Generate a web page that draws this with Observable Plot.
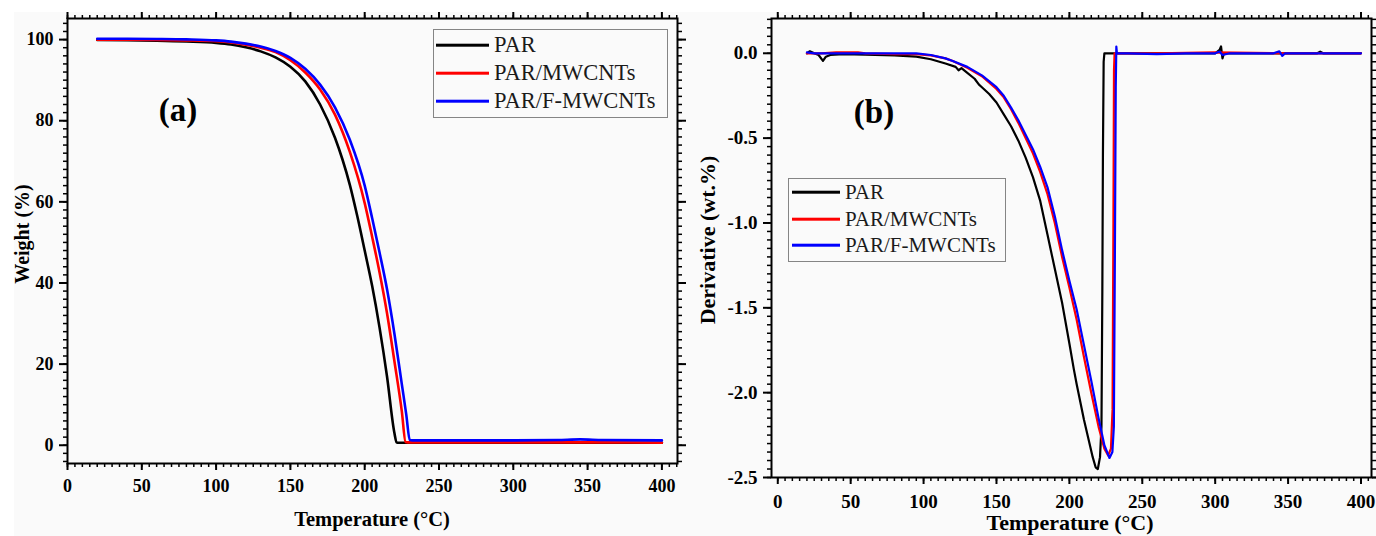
<!DOCTYPE html>
<html><head><meta charset="utf-8">
<script src="https://cdn.jsdelivr.net/npm/d3@7"></script>
<script src="https://cdn.jsdelivr.net/npm/@observablehq/plot@0.6"></script>
<style>
body{margin:0;background:#fff;font-family:"Liberation Serif","Times New Roman",serif;}
#wrap{position:relative;width:1376px;height:536px;overflow:hidden;}
#bg{position:absolute;left:14px;top:12px;right:0;bottom:0;background:#fafafa;}
.box{position:absolute;top:0;}
.t{position:absolute;white-space:nowrap;transform:translate(-50%,-50%);font-weight:bold;color:#000;line-height:1;}
.rot{transform:translate(-50%,-50%) rotate(-90deg);}
.legend{position:absolute;border:1.5px solid #858585;box-sizing:border-box;}
.lrow{position:absolute;white-space:nowrap;line-height:1;transform:translateY(-50%);color:#1a1a1a;}
.lline{position:absolute;height:2.6px;transform:translateY(-50%);}
</style></head>
<body>
<div id="wrap">
  <div id="bg"></div>
  <div id="left" class="box" style="left:0px"></div>
  <div id="right" class="box" style="left:690px"></div>
</div>
<script>
// ---------------- data ----------------
const seriesNames = ["PAR", "PAR/MWCNTs", "PAR/F-MWCNTs"];
const seriesColors = ["#000000", "#ff0000", "#0000ff"];

// TGA: [temperature °C, weight %]
const tga_PAR = [[20,99.9],[40,99.85],[60,99.75],[80,99.55],[100,99.2],[110,98.8],[120,98.1],[130,97.1],[140,95.6],[150,93.3],[160,89.7],[170,84.0],[180,75.8],[185,70.5],[190,64.2],[195,56.5],[200,48.0],[205,39.3],[210,29.0],[215,17.0],[220,3.0],[221.5,0.7],[222.5,0.6],[250,0.6],[300,0.6],[350,0.6],[400,0.6]];
const tga_MWCNT = [[20,99.95],[40,99.95],[60,99.9],[80,99.8],[100,99.6],[110,99.3],[120,98.75],[130,98.0],[140,96.9],[150,94.9],[160,91.9],[170,87.7],[180,81.5],[190,72.3],[200,59.7],[205,51.4],[210,42.6],[215,32.6],[220,20.7],[225,8.3],[227.5,0.8],[229,0.7],[300,0.7],[350,0.7],[400,0.6]];
const tga_FMWCNT = [[20,100.2],[40,100.2],[60,100.15],[80,100.05],[100,99.8],[110,99.5],[120,99.0],[130,98.3],[140,97.2],[150,95.5],[160,92.8],[170,88.9],[180,83.3],[190,75.3],[200,64.0],[205,56.0],[210,47.5],[215,38.5],[220,27.5],[225,15.0],[228,7.5],[230.3,1.3],[232,1.2],[300,1.2],[330,1.3],[345,1.45],[360,1.3],[400,1.2]];

// DTG: [temperature °C, derivative wt.%]
const dtg_PAR = [[20,0.0],[22,0.012],[25,0.0],[28,-0.01],[31,-0.045],[33,-0.02],[36,-0.01],[45,-0.005],[60,-0.008],[80,-0.012],[95,-0.02],[105,-0.035],[115,-0.06],[122,-0.08],[124,-0.1],[126,-0.088],[130,-0.115],[135,-0.15],[138,-0.185],[140,-0.2],[145,-0.24],[150,-0.29],[155,-0.36],[160,-0.43],[165,-0.515],[170,-0.615],[175,-0.73],[180,-0.87],[185,-1.07],[190,-1.27],[195,-1.47],[200,-1.71],[203,-1.86],[205,-1.95],[210,-2.16],[213,-2.27],[216,-2.38],[218,-2.44],[219.5,-2.45],[221,-2.38],[222,-2.2],[222.6,-1.4],[223,-0.6],[223.5,-0.05],[224,0.0],[240,0.0],[300,0.0],[303,0.02],[304,0.04],[305,-0.03],[306,0.0],[320,0.0],[370,0.0],[372,0.01],[374,0.0],[400,0.0]];
const dtg_MWCNT = [[20,0.0],[30,0.0],[40,0.005],[55,0.006],[60,0.0],[80,-0.005],[95,-0.005],[105,-0.012],[115,-0.03],[120,-0.045],[130,-0.085],[140,-0.135],[150,-0.21],[155,-0.26],[160,-0.33],[165,-0.41],[170,-0.5],[175,-0.59],[180,-0.7],[185,-0.83],[190,-1.0],[195,-1.2],[200,-1.38],[205,-1.57],[210,-1.79],[215,-2.0],[220,-2.2],[224,-2.33],[226.6,-2.37],[228.5,-2.33],[229.6,-2.1],[230.2,-1.0],[230.6,-0.1],[231,0.0],[260,0.0],[300,0.005],[350,0.0],[400,0.0]];
const dtg_FMWCNT = [[20,0.005],[25,0.0],[40,0.0],[60,0.0],[80,0.0],[95,0.0],[105,-0.01],[115,-0.03],[120,-0.045],[130,-0.08],[140,-0.13],[150,-0.2],[155,-0.25],[160,-0.32],[165,-0.395],[170,-0.48],[175,-0.565],[180,-0.67],[185,-0.79],[190,-0.96],[195,-1.16],[200,-1.34],[205,-1.51],[210,-1.72],[215,-1.93],[220,-2.15],[224,-2.31],[227.5,-2.385],[229.5,-2.35],[230.5,-2.2],[231.2,-1.2],[231.8,-0.2],[232.2,0.04],[232.6,0.0],[240,0.0],[260,-0.005],[280,0.0],[300,0.0],[303,0.01],[305,-0.01],[310,0.0],[340,0.0],[344,0.012],[346,-0.015],[348,0.0],[400,0.0]];

// tick values
const xTicksMajor = [0,50,100,150,200,250,300,350,400];
const tgaYTicks = [0,20,40,60,80,100];
const dtgYTicks = [-2.5,-2.0,-1.5,-1.0,-0.5,0.0];
const xTitle = "Temperature (°C)";
const tgaYTitle = "Weight (%)";
const dtgYTitle = "Derivative (wt.%)";

// ---------------- build ----------------
function rows(list) {
  const out = [];
  list.forEach((arr, i) => arr.forEach(([T, v]) => out.push({T, v, s: seriesNames[i]})));
  return out;
}
const tgaRows = rows([tga_PAR, tga_MWCNT, tga_FMWCNT]);
const dtgRows = rows([dtg_PAR, dtg_MWCNT, dtg_FMWCNT]);

function frameAxes(xMajor, xMinor, yMajor, yMinor, fmtY, xPad, yPad) {
  const blank = () => "";
  return [
    Plot.axisX({anchor: "bottom", ticks: xMinor, tickSize: 4, tickFormat: blank, strokeWidth: 1.5, label: null}),
    Plot.axisX({anchor: "bottom", ticks: xMajor, tickSize: 7, tickPadding: xPad, tickFormat: d => String(d), strokeWidth: 2, label: null}),
    Plot.axisX({anchor: "top", ticks: xMinor, tickSize: 4, tickFormat: blank, strokeWidth: 1.5, label: null}),
    Plot.axisX({anchor: "top", ticks: xMajor, tickSize: 7, tickFormat: blank, strokeWidth: 2, label: null}),
    Plot.axisY({anchor: "left", ticks: yMinor, tickSize: 4, tickFormat: blank, strokeWidth: 1.5, label: null}),
    Plot.axisY({anchor: "left", ticks: yMajor, tickSize: 8, tickPadding: yPad, tickFormat: fmtY, strokeWidth: 2, label: null}),
    Plot.axisY({anchor: "right", ticks: yMinor, tickSize: 4, tickFormat: blank, strokeWidth: 1.5, label: null}),
    Plot.axisY({anchor: "right", ticks: yMajor, tickSize: 8, tickFormat: blank, strokeWidth: 2, label: null}),
    Plot.frame({strokeWidth: 2})
  ];
}

const leftPlot = Plot.plot({
  width: 690, height: 536,
  marginLeft: 67, marginRight: 13, marginTop: 18, marginBottom: 73,
  x: {domain: [0, 410.5]},
  y: {domain: [-4.5, 105.2]},
  color: {domain: seriesNames, range: seriesColors},
  style: {fontFamily: "Liberation Serif, Times New Roman, serif", fontSize: "18px", fontWeight: "bold", background: "transparent", color: "#000", overflow: "visible"},
  marks: [
    ...frameAxes(xTicksMajor, d3.range(0, 411, 5), tgaYTicks, d3.range(-4, 105, 2), d => String(d), 9, 6),
    Plot.line(tgaRows, {x: "T", y: "v", z: "s", stroke: "s", curve: "monotone-x", strokeWidth: 2.6})
  ]
});
document.getElementById("left").appendChild(leftPlot);

const rightPlot = Plot.plot({
  width: 686, height: 536,
  marginLeft: 81, marginRight: 5, marginTop: 18, marginBottom: 59,
  x: {domain: [-4.3, 407.2]},
  y: {domain: [-2.5, 0.205]},
  color: {domain: seriesNames, range: seriesColors},
  style: {fontFamily: "Liberation Serif, Times New Roman, serif", fontSize: "19px", fontWeight: "bold", background: "transparent", color: "#000", overflow: "visible"},
  marks: [
    ...frameAxes(xTicksMajor, d3.range(0, 406, 5), dtgYTicks, d3.range(-50, 5).map(i => i / 20), d => d.toFixed(1), 10, 6),
    Plot.line(dtgRows, {x: "T", y: "v", z: "s", stroke: "s", curve: "linear", strokeWidth: 2.2})
  ]
});
document.getElementById("right").appendChild(rightPlot);

// ---------------- text & legends ----------------
const wrap = document.getElementById("wrap");
function addText(txt, x, y, size, cls) {
  const d = document.createElement("div");
  d.className = "t" + (cls ? " " + cls : "");
  d.textContent = txt;
  d.style.left = x + "px"; d.style.top = y + "px"; d.style.fontSize = size + "px";
  wrap.appendChild(d);
}
addText(xTitle, 372, 519, 20.5);
addText(tgaYTitle, 22, 234, 20, "rot");
addText(xTitle, 1070, 523, 22);
addText(dtgYTitle, 708, 240, 22, "rot");
addText("(a)", 178, 110, 33);
addText("(b)", 874, 112, 33);

function addLegend(box, lineX0, lineX1, textX, rowsY, size) {
  const b = document.createElement("div");
  b.className = "legend";
  Object.assign(b.style, {left: box[0] + "px", top: box[1] + "px", width: box[2] + "px", height: box[3] + "px"});
  wrap.appendChild(b);
  seriesNames.forEach((name, i) => {
    const l = document.createElement("div");
    l.className = "lline";
    Object.assign(l.style, {left: lineX0 + "px", width: (lineX1 - lineX0) + "px", top: rowsY[i] + "px", background: seriesColors[i]});
    wrap.appendChild(l);
    const t = document.createElement("div");
    t.className = "lrow";
    t.textContent = name;
    Object.assign(t.style, {left: textX + "px", top: rowsY[i] + "px", fontSize: size + "px"});
    wrap.appendChild(t);
  });
}
addLegend([433, 29, 235, 89], 436, 489, 494, [45, 73, 101], 22.5);
addLegend([788, 178, 218, 84], 792, 840, 845, [192, 219, 245], 21);
</script>
</body></html>
